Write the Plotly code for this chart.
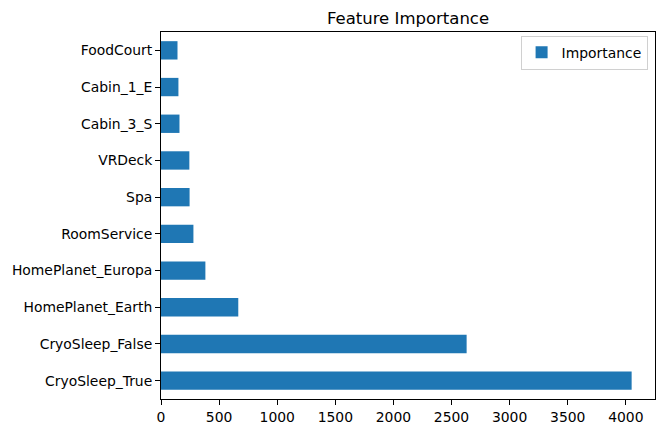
import plotly.graph_objects as go

features = ["CryoSleep_True", "CryoSleep_False", "HomePlanet_Earth", "HomePlanet_Europa",
            "RoomService", "Spa", "VRDeck", "Cabin_3_S", "Cabin_1_E", "FoodCourt"]
importance = [4050, 2630, 665, 382, 279, 246, 244, 159, 150, 142]
xticks = [0, 500, 1000, 1500, 2000, 2500, 3000, 3500, 4000]

fig = go.Figure()
fig.add_trace(go.Bar(
    x=importance, y=features, orientation="h", name="Importance",
    marker=dict(color="#1f77b4", line=dict(width=0)), width=0.5, showlegend=True,
))

axis_common = dict(
    showline=True, linecolor="black", linewidth=1, mirror=True,
    ticks="outside", ticklen=5, tickwidth=1, tickcolor="black",
    showgrid=False, zeroline=False,
    tickfont=dict(family="DejaVu Sans", size=13.9, color="black"),
)

fig.update_layout(
    width=666, height=435,
    margin=dict(l=161, r=10, t=32, b=34),
    plot_bgcolor="white", paper_bgcolor="white",
    font=dict(family="DejaVu Sans", size=13.9, color="black"),
    title=dict(text="Feature Importance", x=(160 + 656) / 2 / 666, xanchor="center",
               y=1 - 18 / 435, yanchor="middle",
               font=dict(family="DejaVu Sans", size=16.5, color="black")),
    xaxis=dict(range=[0, 4251], tickmode="array", tickvals=xticks, **axis_common),
    yaxis=dict(range=[-0.5, 9.5], categoryorder="array", categoryarray=features, **axis_common),
    legend=dict(x=0.985, y=0.99, xanchor="right", yanchor="top",
                bordercolor="#d0d0d0", borderwidth=1, bgcolor="white",
                font=dict(family="DejaVu Sans", size=13.9, color="black")),
    bargap=0.5,
)

fig.write_html("out.html", post_script="document.body.style.margin='0';",
               config={"displayModeBar": False})
